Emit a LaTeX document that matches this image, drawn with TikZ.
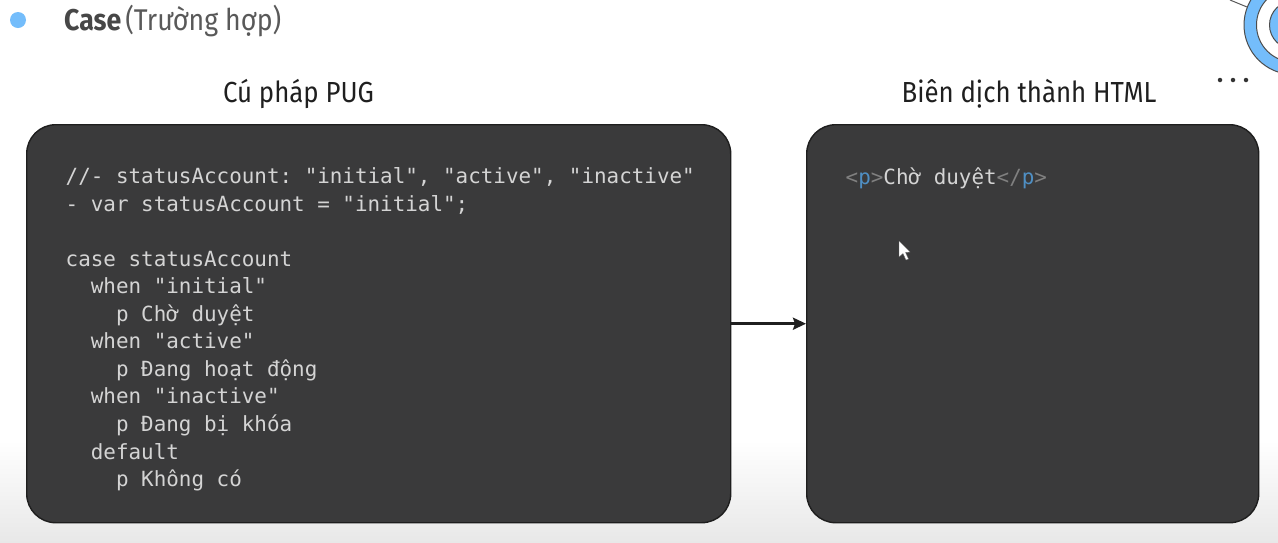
\documentclass[tikz,border=0pt]{standalone}
\usepackage{fontspec}
\setmainfont{Fira Sans}[FakeStretch=0.89]
\newfontfamily\codefont{DejaVu Sans Mono}
\usetikzlibrary{arrows.meta}
\definecolor{panelfill}{HTML}{3A3A3B}
\definecolor{paneledge}{HTML}{1E1E1E}
\definecolor{codetext}{HTML}{D4D4D4}
\definecolor{tagtext}{HTML}{808080}
\definecolor{tagname}{HTML}{4F8FC4}
\definecolor{skyblue}{HTML}{74BDFB}
\tikzset{
  panel/.style={draw=paneledge,line width=1.4pt,fill=panelfill,rounded corners=29pt,inner sep=0pt,anchor=north west},
  codeblock/.style={font=\fontsize{20.9}{27.55}\selectfont\codefont,text=codetext,align=left,inner sep=0pt,anchor=north west},
  heading/.style={font=\fontsize{29}{32}\selectfont,text=black!88,inner sep=0pt,anchor=base},
  dotmark/.style={circle,fill=black!80,inner sep=0pt,minimum size=4.5pt}
}
\begin{document}
\begin{tikzpicture}[x=1pt,y=-1pt]
\useasboundingbox (0,0) rectangle (1278,542);
\fill[white] (0,0) rectangle (1278,542);
\shade[top color=white,bottom color=black!9] (0,440) rectangle (1278,542);
% target ornament
\begin{scope}
\clip (0,0) rectangle (1278,542);
\draw[black!65,line width=1pt] (1230,0) -- (1247,7);
\fill[skyblue,draw=black!70,line width=1pt] (1293.5,25) circle (49.5);
\fill[white] (1293.5,25) circle (37);
\draw[black!70,line width=1pt] (1293.5,25) circle (37);
\fill[skyblue,draw=black!70,line width=1pt] (1293.5,25) circle (24);
\end{scope}
\node[dotmark] (d1) at (1220,80) {};
\node[dotmark] (d2) at (1233,80) {};
\node[dotmark] (d3) at (1246,80) {};
% bullet and title
\node[circle,fill=skyblue,inner sep=0pt,minimum size=16pt] (bullet) at (18,20) {};
\node[font=\fontsize{30}{32}\selectfont,inner sep=0pt,anchor=base west] (title) at (64,30)
  {\textcolor{black!72}{\textbf{Case}}\hspace{4pt}\textcolor{black!65}{(Trường hợp)}};
% headings
\node[heading] (h1) at (298.5,102) {Cú pháp PUG};
\node[heading] (h2) at (1029,102) {Biên dịch thành HTML};
% panels
\node[panel,minimum width=704pt,minimum height=398pt] (left) at (26,124) {};
\node[panel,minimum width=452pt,minimum height=398pt] (right) at (806,124) {};
\draw[-{Stealth[length=13pt,width=12pt,inset=2pt]},line width=2.6pt,black!88] (left.east) -- (right.west);
% code
\node[codeblock] (code) at (65.5,167.3) {%
//-~statusAccount:~"initial",~"active",~"inactive"\\
-~var~statusAccount~=~"initial";\\
\mbox{}\\
case~statusAccount\\
~~when~"initial"\\
~~~~p~Chờ~duyệt\\
~~when~"active"\\
~~~~p~Đang~hoạt~động\\
~~when~"inactive"\\
~~~~p~Đang~bị~khóa\\
~~default\\
~~~~p~Không~có};
\node[codeblock] (out) at (845.5,167.3) {\textcolor{tagtext}{<}\textcolor{tagname}{p}\textcolor{tagtext}{>}Chờ~duyệt\textcolor{tagtext}{</}\textcolor{tagname}{p}\textcolor{tagtext}{>}};
% mouse cursor
\fill[white,draw=black!60,line width=0.3pt] (899,241) -- (899,257) -- (903,253.5) -- (906,260) -- (908.5,259) -- (905.5,252.5) -- (910,252) -- cycle;
\end{tikzpicture}
\end{document}
